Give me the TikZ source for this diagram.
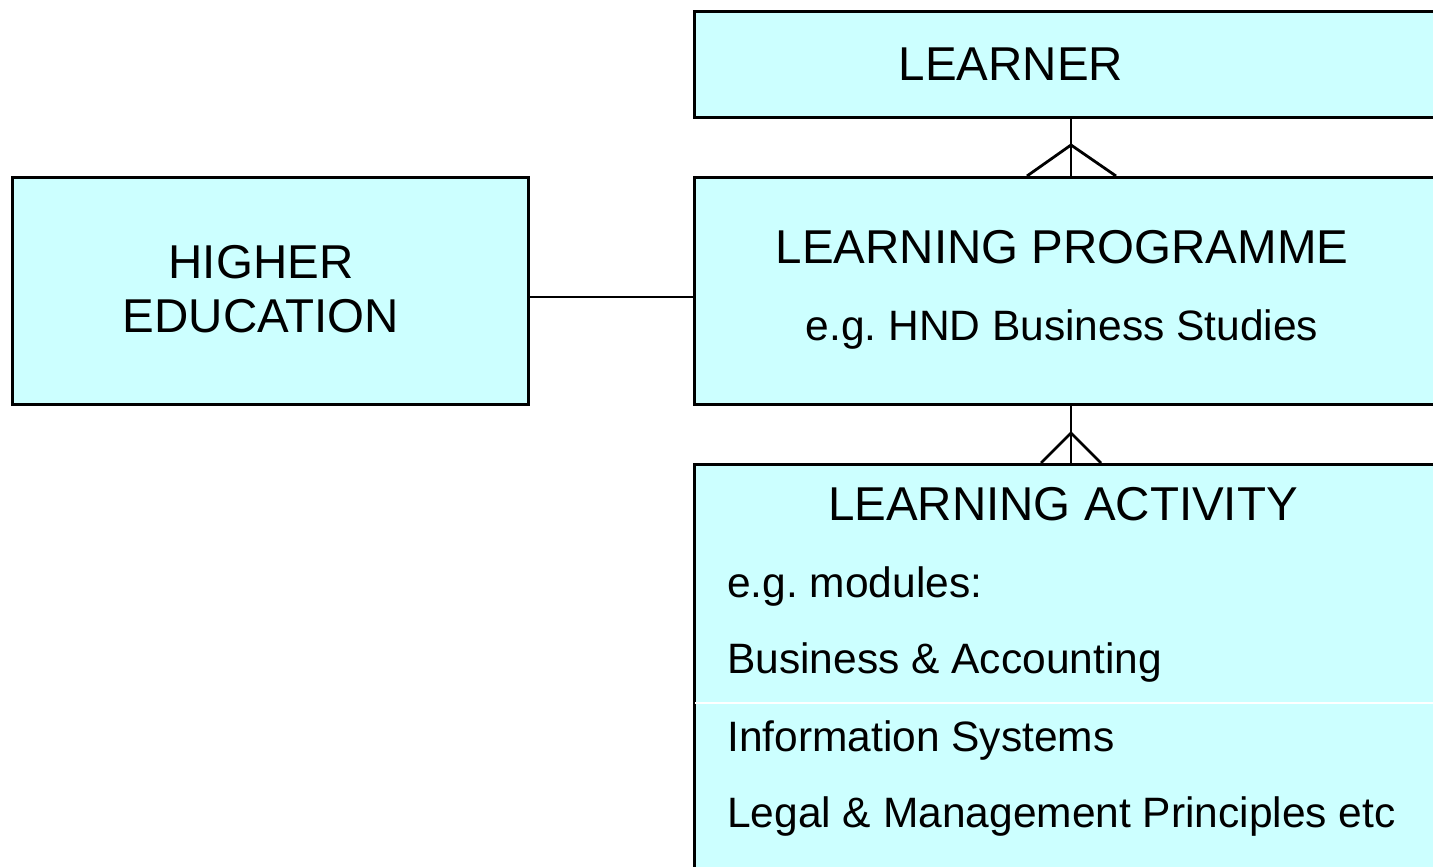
\documentclass[tikz,border=0pt]{standalone}
\usepackage{fontspec}
\setmainfont{Liberation Sans}
\definecolor{boxfill}{HTML}{CCFFFF}
\frenchspacing
\begin{document}
\begin{tikzpicture}[x=1pt,y=-1pt,
  entity/.style={draw=black,line width=2.8pt,fill=boxfill,inner sep=0pt,anchor=north west},
  big/.style={font=\fontsize{47.5}{54}\selectfont,anchor=base,inner sep=0pt},
  small/.style={font=\fontsize{42.5}{48}\selectfont\frenchspacing,anchor=base,inner sep=0pt},
  item/.style={font=\fontsize{42.5}{48}\selectfont\frenchspacing,anchor=base west,inner sep=0pt},
  link/.style={draw=black,line width=2.8pt}]
\clip (0,0) rectangle (1433,867);
\fill[white] (0,0) rectangle (1433,867);
% boxes
\node[entity,minimum width=760pt,minimum height=106pt] (learner) at (693,10) {};
\node[entity,minimum width=516pt,minimum height=227pt] (he) at (11,176) {};
\node[entity,minimum width=760pt,minimum height=227pt] (lp) at (693,176) {};
\node[entity,minimum width=760pt,minimum height=420pt] (la) at (693,463) {};
\draw[white,line width=2pt] (la.west |- 0,703) ++(2,0) coordinate (sepL) -- (1433,703) coordinate (sepR);
% texts
\node[big] (tlearner) at (1011,81) {LEARNER};
\node[big,align=center] (the) at (261,332) {HIGHER\\EDUCATION};
\node[big] (tlp) at (1062,263) {LEARNING PROGRAMME};
\node[small] (tlpe) at (1062,340) {e.g. HND Business Studies};
\node[big] (tla) at (1063,520) {LEARNING ACTIVITY};
\node[item] (m0) at (727,597) {e.g. modules:};
\node[item] (m1) at (727,673) {Business \& Accounting};
\node[item] (m2) at (727,751) {Information Systems};
\node[item] (m3) at (727,827) {Legal \& Management Principles etc};
% connectors
\coordinate (c1t) at (1071,116);
\coordinate (c1b) at (1071,176);
\coordinate (c1k) at (1071,145);
\coordinate (c1l) at (1027,176);
\coordinate (c1r) at (1116,176);
\draw[link] (c1t) -- (c1b);
\draw[link] (c1l) -- (c1k) -- (c1r);
\coordinate (c2t) at (1071,403);
\coordinate (c2b) at (1071,463);
\coordinate (c2k) at (1071,433);
\coordinate (c2l) at (1041,463);
\coordinate (c2r) at (1101,463);
\draw[link] (c2t) -- (c2b);
\draw[link] (c2l) -- (c2k) -- (c2r);
\draw[link] (he.east |- 0,297) -- (lp.west |- 0,297);
\end{tikzpicture}
\end{document}
